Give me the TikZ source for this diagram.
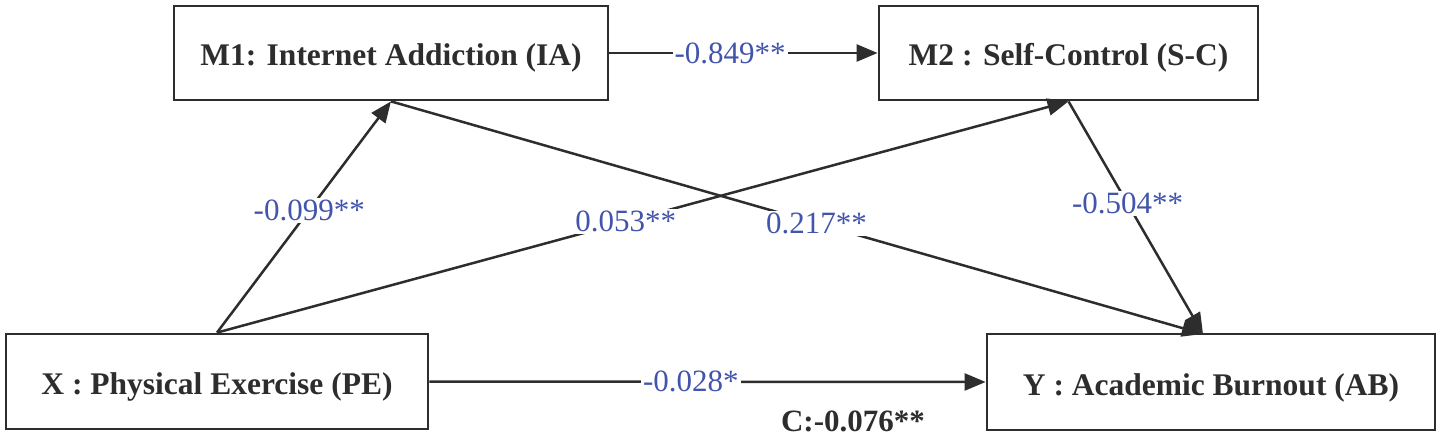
\documentclass[tikz,border=0pt]{standalone}
\usepackage{fontspec}
\setmainfont{Liberation Serif}
\usetikzlibrary{arrows.meta}
\definecolor{lbl}{RGB}{66,84,172}
\definecolor{ink}{RGB}{45,45,45}
\tikzset{
  box/.style={draw=ink, line width=2.8pt, fill=white, text=ink, font=\fontsize{31.5}{36}\selectfont\bfseries,
    inner sep=0pt, text height=26pt, text depth=0pt, anchor=center},
  conn/.style={draw=ink, line width=2.5pt, -{Triangle[length=21pt,width=17pt]}},
  coef/.style={fill=white, text=lbl, font=\fontsize{31}{36}\selectfont, inner sep=2pt},
  total/.style={text=ink, font=\fontsize{31}{36}\selectfont\bfseries, inner sep=0pt}
}
\begin{document}
\begin{tikzpicture}[x=1pt,y=-1pt]
\useasboundingbox (0,0) rectangle (1441,436);
\node[box, minimum width=434pt, minimum height=94pt] (M1) at (391,53) {M1: Internet Addiction (IA)};
\node[box, minimum width=379pt, minimum height=94pt] (M2) at (1068.5,53) {M2 : Self-Control (S-C)};
\node[box, minimum width=422pt, minimum height=95pt] (X) at (217,381.5) {X : Physical Exercise (PE)};
\node[box, minimum width=448pt, minimum height=96pt] (Y) at (1211,382) {Y : Academic Burnout (AB)};
\coordinate (Ytop) at (1203,334);

\draw[conn] (M1.east) -- (M2.west) node[coef, pos=0.45] (l1) {-0.849**};
\draw[conn] (X.north) -- (M1.south) node[coef, pos=0.53] (l2) {-0.099**};
\draw[conn] (X.north) -- (M2.south) node[coef, pos=0.48] (l3) {0.053**};
\draw[conn] (M1.south) -- (Ytop) node[coef, pos=0.524] (l4) {0.217**};
\draw[conn] (M2.south) -- (Ytop) node[coef, pos=0.44] (l5) {-0.504**};
\draw[conn] (X.east) -- (Y.west) node[coef, pos=0.47] (l6) {-0.028*};
\node[total] (c) at (853,421.5) {C:-0.076**};
\end{tikzpicture}
\end{document}
